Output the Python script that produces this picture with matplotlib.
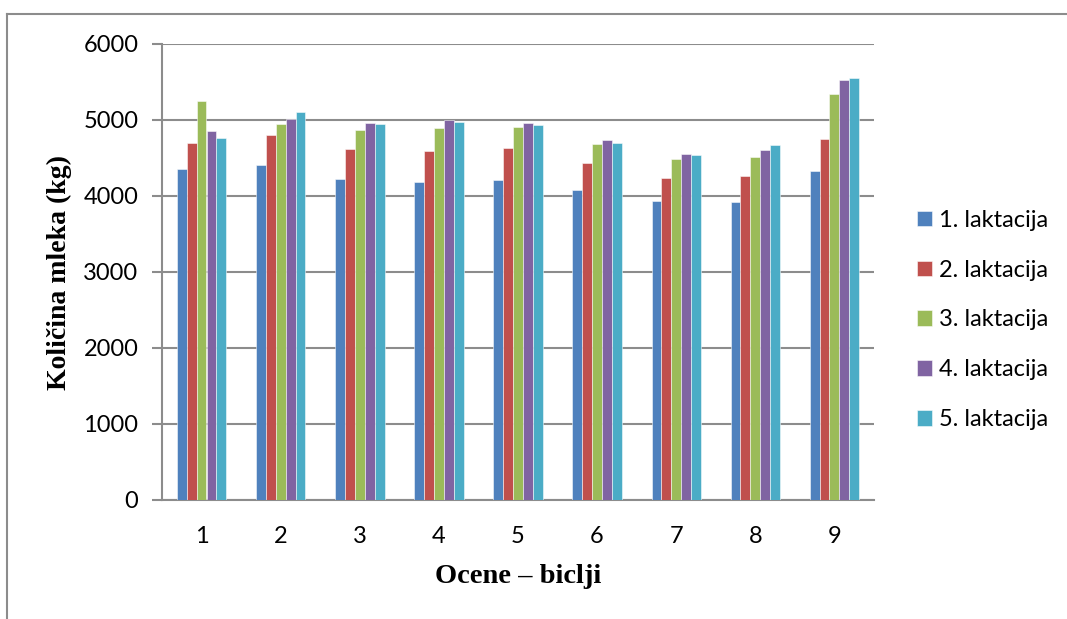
import matplotlib
matplotlib.use("Agg")
import matplotlib.pyplot as plt
import numpy as np
from matplotlib.lines import Line2D

categories = ["1", "2", "3", "4", "5", "6", "7", "8", "9"]
series_names = ["1. laktacija", "2. laktacija", "3. laktacija", "4. laktacija", "5. laktacija"]
lakt1 = [4351, 4408, 4228, 4180, 4215, 4075, 3930, 3921, 4329]
lakt2 = [4701, 4807, 4614, 4588, 4627, 4434, 4241, 4259, 4746]
lakt3 = [5246, 4951, 4868, 4899, 4908, 4680, 4487, 4517, 5342]
lakt4 = [4851, 5009, 4956, 4996, 4956, 4732, 4553, 4605, 5526]
lakt5 = [4763, 5101, 4943, 4978, 4938, 4693, 4543, 4667, 5557]
series = [lakt1, lakt2, lakt3, lakt4, lakt5]
colors = ["#4F81BD", "#C0504D", "#9BBB59", "#8064A2", "#4BACC6"]
yticks = [0, 1000, 2000, 3000, 4000, 5000, 6000]

W, H = 1067, 619
fig = plt.figure(figsize=(W / 100, H / 100), dpi=100)
ax = fig.add_axes([162 / W, (H - 500) / H, (874 - 162) / W, (500 - 44) / H])

x = np.arange(len(categories))
bw = 0.125
for i, (vals, c, name) in enumerate(zip(series, colors, series_names)):
    ax.bar(x + (i - 2) * bw, vals, width=bw, color=c, label=name,
           edgecolor=(1, 1, 1, 0.6), linewidth=0.6, zorder=3)

ax.set_xlim(-0.5, len(categories) - 0.5)
ax.set_ylim(0, 6000)
ax.set_yticks(yticks)
ax.set_xticks(x)
ax.set_xticklabels(categories)
ax.yaxis.grid(True, color="#8C8C8C", linewidth=1.5, zorder=0)
ax.set_axisbelow(True)
for s in ["top", "right"]:
    ax.spines[s].set_visible(False)
for s in ["left", "bottom"]:
    ax.spines[s].set_color("#8C8C8C")
    ax.spines[s].set_linewidth(1.5)
ax.tick_params(axis="y", length=7, width=1.5, color="#8C8C8C", labelsize=17, pad=10)
ax.tick_params(axis="x", length=0, labelsize=17, pad=19)
for lab in ax.get_xticklabels() + ax.get_yticklabels():
    lab.set_family("Lato")

ax.set_ylabel("Količina mleka (kg)", family="Liberation Serif", fontweight="bold", fontsize=20, labelpad=8)
ax.set_xlabel("Ocene – biclji", family="Liberation Serif", fontweight="bold", fontsize=20.5, labelpad=12)

leg = fig.legend(loc="center left", bbox_to_anchor=(917 / W, 1 - 320 / H), frameon=False,
                 prop={"family": "Lato", "size": 17}, handlelength=0.65, handleheight=0.65,
                 handletextpad=0.3, labelspacing=1.22, borderpad=0, borderaxespad=0)

# outer frame (top and left edges visible)
fig.add_artist(Line2D([7 / W, 7 / W], [0, 1 - 14 / H], transform=fig.transFigure, color="#8C8C8C", linewidth=1.5))
fig.add_artist(Line2D([7 / W, 1], [1 - 14 / H, 1 - 14 / H], transform=fig.transFigure, color="#8C8C8C", linewidth=1.5))

fig.savefig("out.png", dpi=100)
